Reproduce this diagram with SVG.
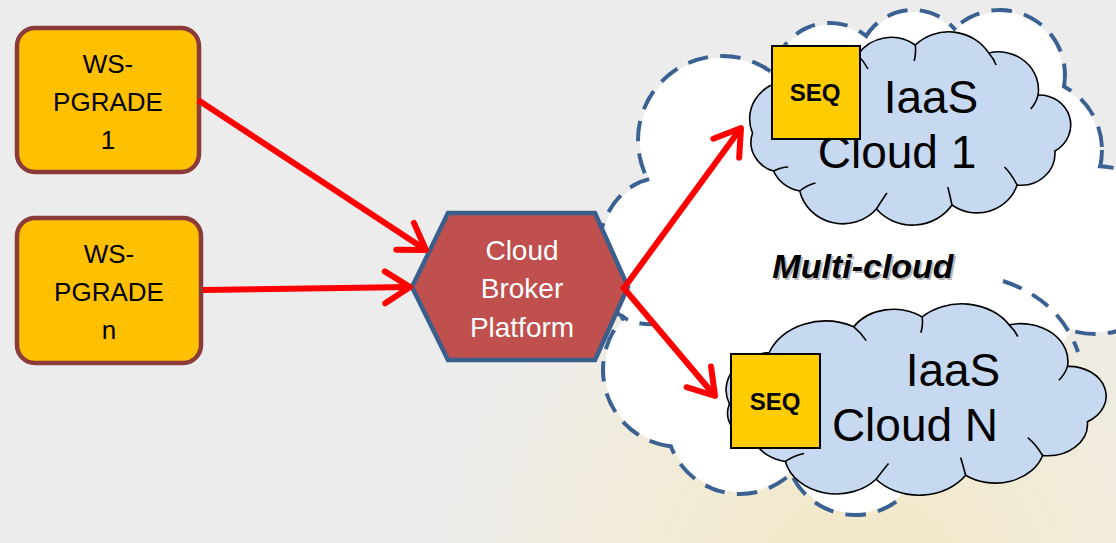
<svg xmlns="http://www.w3.org/2000/svg" xmlns:xlink="http://www.w3.org/1999/xlink" width="1116" height="543" viewBox="0 0 1116 543">
<defs>
<radialGradient id="glow" cx="860" cy="600" r="440" gradientUnits="userSpaceOnUse">
<stop offset="0" stop-color="#f3e8c4"/>
<stop offset="0.55" stop-color="#f1ebd9"/>
<stop offset="1" stop-color="#ececec"/>
</radialGradient>
<marker id="head" markerUnits="userSpaceOnUse" markerWidth="50" markerHeight="50" viewBox="-40 -25 50 50" refX="0" refY="0" orient="auto" overflow="visible">
<path d="M-25,-16 L0,0 L-25,16" fill="none" stroke="#ff0000" stroke-width="6" stroke-linecap="round" stroke-linejoin="round"/>
</marker>
<path id="cloudP" vector-effect="non-scaling-stroke" d="M10,100 A38,38 0 0 1 42,48 A48,48 0 0 1 110,22 A38,38 0 0 1 165,12 A45,45 0 0 1 235,20 A38,38 0 0 1 282,62 A30,30 0 0 1 298,118 A32,32 0 0 1 262,152 A40,40 0 0 1 200,172 A45,45 0 0 1 128,176 A42,42 0 0 1 55,158 A34,34 0 0 1 30,138 A30,30 0 0 1 10,100 Z"/>
<path id="tailsP" vector-effect="non-scaling-stroke" d="M42,48 Q44,56 46,62 M110,22 Q116,28 120,36 M165,12 Q166,20 164,28 M235,20 Q240,26 242,32 M282,62 Q280,70 275,76 M262,152 Q256,140 250,134 M200,172 Q198,162 196,154 M128,176 Q134,166 138,160 M55,158 Q62,152 70,150 M30,138 Q38,134 44,134"/>
</defs>
<style>
.ws{fill:#ffc000;stroke:#8c3b3b;stroke-width:4.5}
.wst{font-family:"Liberation Sans",Arial,sans-serif;font-size:26px;fill:#000;text-anchor:middle}
.hex{fill:#c0504d;stroke:#3b5f8d;stroke-width:4.5;stroke-linejoin:miter}
.hext{font-family:"Liberation Sans",Arial,sans-serif;font-size:28px;fill:#fff;text-anchor:middle}
.mcd{fill:#fff;stroke:#3b6192;stroke-width:8;stroke-dasharray:20 12}
.mcf{fill:#fff;stroke:none}
.mcl{fill:none;stroke:#3b6192;stroke-width:4;stroke-dasharray:20 12}
.cloud{fill:#c6d9f1;stroke:#000;stroke-width:1.6}
.tail{fill:none;stroke:#000;stroke-width:1.6}
.seq{fill:#ffcc00;stroke:#000;stroke-width:2}
.seqt{font-family:"Liberation Sans",Arial,sans-serif;font-size:24px;font-weight:bold;fill:#000;text-anchor:middle}
.iaas{font-family:"Liberation Sans",Arial,sans-serif;font-size:46px;fill:#000;text-anchor:middle}
.mct{font-family:"Liberation Sans",Arial,sans-serif;font-size:34px;font-weight:bold;font-style:italic;text-anchor:middle}
.conn{fill:none;stroke:#ff0000;stroke-width:6;marker-end:url(#head)}
</style>
<rect x="0" y="0" width="1116" height="543" fill="#ececec"/>
<rect x="0" y="0" width="1116" height="543" fill="url(#glow)"/>

<g id="multi-cloud">
<g class="mcd">
<circle cx="722" cy="140" r="82"/>
<circle cx="830" cy="80" r="55"/>
<circle cx="913" cy="65" r="53"/>
<circle cx="1000" cy="75" r="63"/>
<circle cx="1030" cy="150" r="70"/>
<circle cx="1095" cy="250" r="82"/>
<ellipse cx="660" cy="255" rx="60" ry="75"/>
<circle cx="680" cy="370" r="75"/>
<circle cx="740" cy="420" r="72"/>
<circle cx="855" cy="445" r="68"/>
</g>
<g class="mcf">
<circle cx="722" cy="140" r="82"/>
<circle cx="830" cy="80" r="55"/>
<circle cx="913" cy="65" r="53"/>
<circle cx="1000" cy="75" r="63"/>
<circle cx="1030" cy="150" r="70"/>
<circle cx="1095" cy="250" r="82"/>
<ellipse cx="660" cy="255" rx="60" ry="75"/>
<circle cx="680" cy="370" r="75"/>
<circle cx="740" cy="420" r="72"/>
<circle cx="855" cy="445" r="68"/>
<ellipse cx="870" cy="270" rx="220" ry="150"/>
</g>
<path class="mcl" d="M1003,281 Q1060,300 1078,352"/>
<path class="mcl" d="M612,308 Q628,326 656,324"/>
<text class="mct" x="865" y="280" fill="#b8b8b8">Multi-cloud</text>
<text class="mct" x="863" y="278" fill="#000">Multi-cloud</text>
</g>

<g id="ws-pgrade-1">
<rect class="ws" x="17" y="28" width="182" height="144" rx="18"/>
<text class="wst" x="108" y="73">WS-</text>
<text class="wst" x="108" y="111">PGRADE</text>
<text class="wst" x="108" y="149">1</text>
</g>
<g id="ws-pgrade-n">
<rect class="ws" x="17" y="218" width="184" height="145" rx="18"/>
<text class="wst" x="109" y="263">WS-</text>
<text class="wst" x="109" y="301">PGRADE</text>
<text class="wst" x="109" y="339">n</text>
</g>

<g id="cloud-broker">
<polygon class="hex" points="412,287 448,213 595,213 628,287 595,360 448,360"/>
<text class="hext" x="522" y="260">Cloud</text>
<text class="hext" x="522" y="298">Broker</text>
<text class="hext" x="522" y="337">Platform</text>
</g>

<g id="iaas-cloud-1">
<use href="#cloudP" class="cloud" transform="translate(742,33) scale(1.05,1)"/>
<use href="#tailsP" class="tail" transform="translate(742,33) scale(1.05,1)"/>
<text class="iaas" x="931" y="113">IaaS</text>
<text class="iaas" x="897" y="168">Cloud 1</text>
<rect class="seq" x="772" y="46" width="88" height="93"/>
<text class="seqt" x="815" y="101">SEQ</text>
</g>

<g id="iaas-cloud-n">
<use href="#cloudP" class="cloud" transform="translate(717,305) scale(1.243,0.99)"/>
<use href="#tailsP" class="tail" transform="translate(717,305) scale(1.243,0.99)"/>
<text class="iaas" x="953" y="386">IaaS</text>
<text class="iaas" x="915" y="441">Cloud N</text>
<rect class="seq" x="731" y="354" width="89" height="94"/>
<text class="seqt" x="775" y="410">SEQ</text>
</g>

<g id="connectors">
<line class="conn" x1="198" y1="100" x2="426" y2="250"/>
<line class="conn" x1="203" y1="290" x2="410" y2="287"/>
<line class="conn" x1="624" y1="288" x2="741" y2="128"/>
<line class="conn" x1="622" y1="286" x2="715" y2="396"/>
</g>
</svg>
